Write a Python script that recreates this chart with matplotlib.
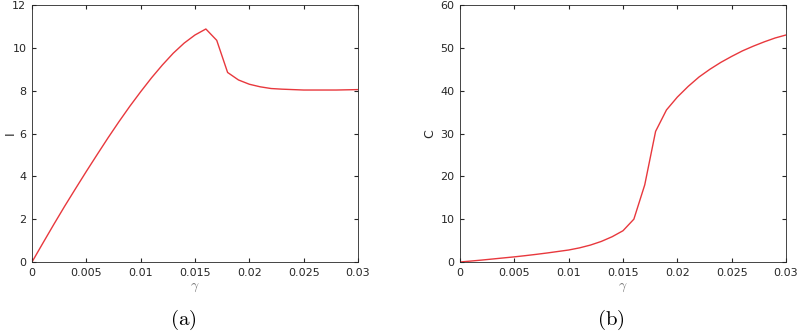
import matplotlib
matplotlib.use("Agg")
import matplotlib.pyplot as plt

plt.rcParams['mathtext.fontset'] = 'cm'

gamma = [0.000, 0.001, 0.002, 0.003, 0.004, 0.005, 0.006, 0.007, 0.008, 0.009,
         0.010, 0.011, 0.012, 0.013, 0.014, 0.015, 0.016, 0.017, 0.018, 0.019,
         0.020, 0.021, 0.022, 0.023, 0.024, 0.025, 0.026, 0.027, 0.028, 0.029,
         0.030]

I_vals = [0.0, 0.88, 1.75, 2.6, 3.42, 4.23, 5.02, 5.8, 6.55, 7.27,
          7.95, 8.6, 9.2, 9.75, 10.22, 10.6, 10.88, 10.35, 8.85, 8.5,
          8.3, 8.18, 8.1, 8.07, 8.05, 8.03, 8.03, 8.03, 8.03, 8.04,
          8.05]

C_vals = [0.0, 0.22, 0.45, 0.7, 0.95, 1.2, 1.48, 1.78, 2.1, 2.45,
          2.8, 3.3, 3.95, 4.8, 5.9, 7.3, 10.0, 18.0, 30.5, 35.5,
          38.5, 41.0, 43.2, 45.0, 46.6, 48.0, 49.3, 50.4, 51.4, 52.3,
          53.0]

xticks = [0, 0.005, 0.01, 0.015, 0.02, 0.025, 0.03]
xticklabels = ['0', '0.005', '0.01', '0.015', '0.02', '0.025', '0.03']

fig = plt.figure(figsize=(8, 3.34), dpi=100)

# left px, data, ylabel, yticks, ymax, caption, caption x px, ylabel x px
panels = [
    (32, I_vals, 'I', [0, 2, 4, 6, 8, 10, 12], 12, '(a)', 183, 10),
    (460, C_vals, 'C', [0, 10, 20, 30, 40, 50, 60], 60, '(b)', 611, 430),
]

for left, yvals, ylab, yticks, ymax, cap, capx, labx in panels:
    ax = fig.add_axes([left / 800, 72 / 334, 326 / 800, 257 / 334])
    ax.plot(gamma, yvals, color='#e8383d', lw=1.0)
    ax.set_xlim(0, 0.03)
    ax.set_ylim(0, ymax)
    ax.set_xticks(xticks)
    ax.set_xticklabels(xticklabels)
    ax.set_yticks(yticks)
    ax.tick_params(direction='in', top=True, right=True, length=3,
                   labelsize=8, colors='#262626', pad=4)
    for s in ax.spines.values():
        s.set_color('#262626')
        s.set_linewidth(0.6)
    ax.set_xlabel(r'$\gamma$', fontsize=10, color='#707070', labelpad=2)
    ax.set_ylabel(ylab, fontsize=9, color='#262626', va='center', ha='center')
    ax.yaxis.set_label_coords((labx - left) / 326, 0.5)
    fig.text(capx / 800, 1 - 320 / 334, r'$\mathrm{' + cap + '}$',
             ha='center', va='center', fontsize=15)

fig.savefig('out.png', dpi=100)
